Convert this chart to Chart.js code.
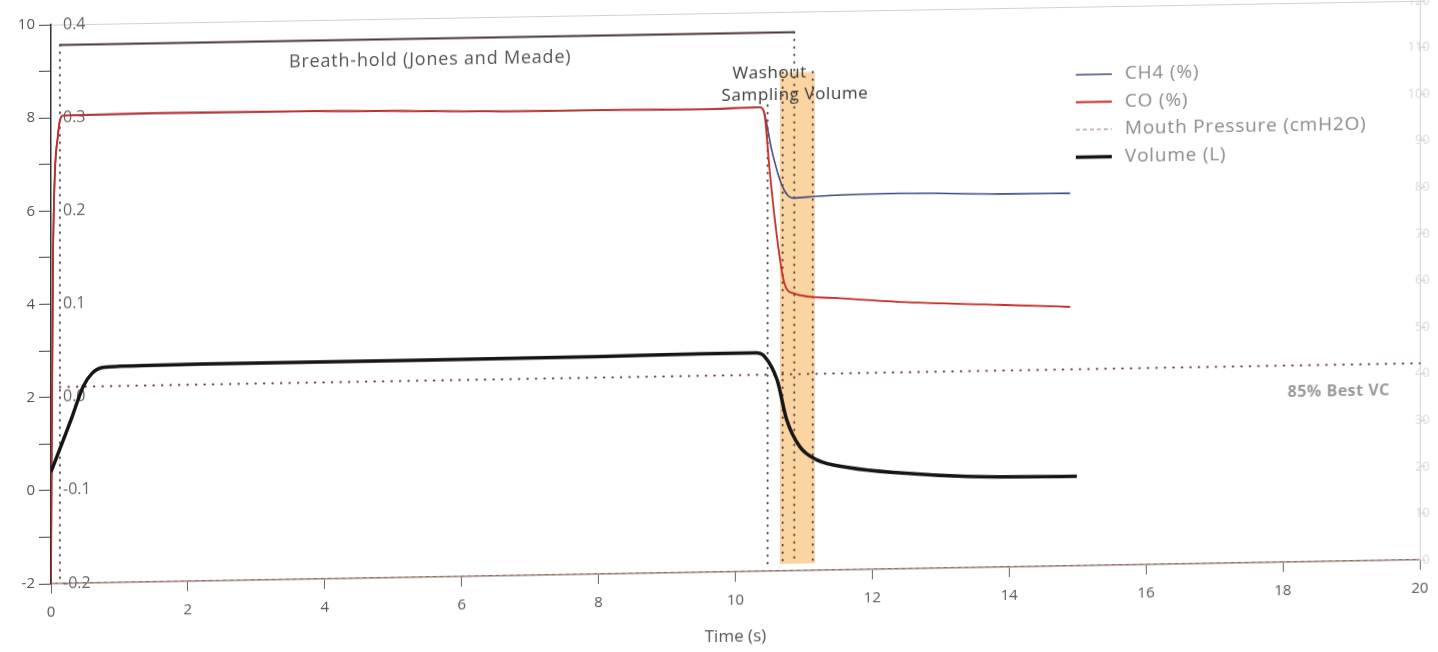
<!DOCTYPE html>
<html>
<head>
<meta charset="utf-8">
<script src="https://cdn.jsdelivr.net/npm/chart.js@4.4.1/dist/chart.umd.min.js"></script>
<style>
  html, body { margin: 0; padding: 0; background: #fff; overflow: hidden; }
  #wrap { width: 1438px; height: 652px; }
  /* the reference is a slightly tilted photo of a print */
  #myChart { transform: skewY(-1deg); transform-origin: 50% 50%; }
</style>
</head>
<body>
<div id="wrap"><canvas id="myChart" width="1438" height="652"></canvas></div>
<script>
// Tick values for each axis
const timeTicks = [0, 2, 4, 6, 8, 10, 12, 14, 16, 18, 20];
const leftTicks = [-2, -1, 0, 1, 2, 3, 4, 5, 6, 7, 8, 9, 10];
const pressureTicks = [-0.2, -0.1, 0, 0.1, 0.2, 0.3, 0.4];
const rightTicks = [0, 10, 20, 30, 40, 50, 60, 70, 80, 90, 100, 110, 120];

// Series (time in s)
const ch4Time   = [0, 0.03, 0.1, 0.17, 1.5, 3.6, 5.0, 6.6, 8.0, 9.5, 10.36, 10.42, 10.53, 10.69, 10.84, 11.19, 12.4, 13.86, 14.89];
const ch4Values = [-2, 5.1, 7.6, 8.04, 8.06, 8.05, 8.02, 7.97, 7.96, 7.94, 7.96, 7.85, 7.04, 6.24, 6.0, 6.03, 6.06, 6.01, 6.0];

const coTime    = [0, 0.03, 0.1, 0.17, 1.5, 3.6, 5.0, 6.6, 8.0, 9.5, 10.36, 10.42, 10.5, 10.58, 10.66, 10.72, 10.84, 11.42, 12.4, 13.86, 14.89];
const coValues  = [-2, 5.1, 7.6, 8.04, 8.06, 8.05, 8.02, 7.97, 7.96, 7.94, 7.96, 7.85, 6.6, 5.5, 4.6, 4.15, 3.96, 3.84, 3.73, 3.63, 3.56];

const pressureTime   = [0, 20];
const pressureValues = [-0.2, -0.2];

const volumeTime   = [0, 0.3, 0.47, 0.6, 0.75, 1.0, 2.2, 5.1, 8.0, 9.5, 10.3, 10.42, 10.61, 10.75, 10.94, 11.19, 11.67, 12.4, 13.38, 14.99];
const volumeValues = [0.40, 1.54, 2.22, 2.50, 2.62, 2.64, 2.66, 2.66, 2.67, 2.69, 2.69, 2.62, 2.10, 1.24, 0.66, 0.37, 0.19, 0.06, -0.04, -0.08];

// Annotations (time in s, level on the left axis)
const breathHold = { start: 0.13, end: 10.86, level: 9.56 };
const washoutBand = { start: 10.65, end: 11.16, top: 8.7, bottom: -1.85 };
const markerTimes   = [0.13, 10.47, 10.69, 10.86, 11.13];
const markerTops    = [9.56, 8.0, 8.7, 9.56, 8.7];
const markerBottoms = [-2, -1.85, -1.85, -1.85, -1.85];
const bestVcLevel = 2.22;

Chart.defaults.font.family = '"Open Sans", "DejaVu Sans", sans-serif';
Chart.defaults.color = '#555';

const toPoints = (xs, ys) => xs.map((x, i) => ({ x: x, y: ys[i] }));
const setTicks = (arr) => (scale) => { scale.ticks = arr.map(v => ({ value: v })); };
// keep the chart area where the print had it: no extra room for end labels
const noPad = (s) => { s.paddingTop = 0; s.paddingBottom = 0; s.paddingLeft = 0; s.paddingRight = 0; };

// Draws the breath-hold box, washout band, reference line, labels and legend
const annotationPlugin = {
  id: 'annotations',
  beforeDatasetsDraw(chart) {
    const { ctx, scales: { x, y } } = chart;
    ctx.save();

    // washout sampling volume band
    const bx0 = x.getPixelForValue(washoutBand.start);
    const bx1 = x.getPixelForValue(washoutBand.end);
    const by0 = y.getPixelForValue(washoutBand.top);
    const by1 = y.getPixelForValue(washoutBand.bottom);
    ctx.fillStyle = 'rgba(246, 172, 70, 0.5)';
    ctx.fillRect(bx0, by0, bx1 - bx0, by1 - by0);

    // dotted vertical markers
    ctx.strokeStyle = '#5a4242';
    ctx.lineWidth = 2;
    ctx.lineCap = 'round';
    ctx.setLineDash([0.5, 7]);
    markerTimes.forEach((t, i) => {
      const px = x.getPixelForValue(t);
      ctx.beginPath();
      ctx.moveTo(px, y.getPixelForValue(markerTops[i]));
      ctx.lineTo(px, y.getPixelForValue(markerBottoms[i]));
      ctx.stroke();
    });

    // 85% best VC line
    ctx.strokeStyle = '#6a3a3a';
    ctx.setLineDash([0.5, 8]);
    ctx.beginPath();
    ctx.moveTo(x.getPixelForValue(breathHold.start), y.getPixelForValue(bestVcLevel));
    ctx.lineTo(x.getPixelForValue(20), y.getPixelForValue(bestVcLevel));
    ctx.stroke();

    // breath-hold top bar
    ctx.setLineDash([]);
    ctx.lineCap = 'butt';
    ctx.strokeStyle = '#4a3634';
    ctx.lineWidth = 2;
    ctx.beginPath();
    ctx.moveTo(x.getPixelForValue(breathHold.start), y.getPixelForValue(breathHold.level));
    ctx.lineTo(x.getPixelForValue(breathHold.end), y.getPixelForValue(breathHold.level));
    ctx.stroke();
    ctx.restore();
  },
  afterDatasetsDraw(chart) {
    const { ctx, scales: { x, y } } = chart;
    ctx.save();
    ctx.textBaseline = 'middle';

    ctx.font = '18px "Open Sans", sans-serif';
    ctx.letterSpacing = '0.8px';
    ctx.fillStyle = '#555';
    ctx.textAlign = 'center';
    ctx.fillText('Breath-hold (Jones and Meade)', x.getPixelForValue(5.54), y.getPixelForValue(9.1));

    ctx.font = '17px "Open Sans", sans-serif';
    ctx.letterSpacing = '0.6px';
    ctx.fillStyle = '#3a3a3a';
    ctx.fillText('Washout', x.getPixelForValue(10.5), y.getPixelForValue(8.69));
    ctx.fillText('Sampling Volume', x.getPixelForValue(10.87), y.getPixelForValue(8.21));

    ctx.font = 'bold 16px "Open Sans", sans-serif';
    ctx.letterSpacing = '0.5px';
    ctx.fillStyle = '#9a9a9a';
    ctx.textAlign = 'right';
    ctx.fillText('85% Best VC', 1390, y.getPixelForValue(1.64));

    // legend
    ctx.font = '19px "Open Sans", sans-serif';
    ctx.letterSpacing = '0.8px';
    ctx.textAlign = 'left';
    chart.data.datasets.forEach((ds, i) => {
      const ly = 81 + i * 27.5;
      ctx.strokeStyle = ds.borderColor;
      ctx.lineWidth = ds.borderWidth;
      ctx.setLineDash(ds.borderDash || []);
      ctx.beginPath();
      ctx.moveTo(1076, ly);
      ctx.lineTo(1112, ly);
      ctx.stroke();
      ctx.fillStyle = '#8a8a8a';
      ctx.fillText(ds.label, 1125, ly);
    });
    ctx.restore();
  }
};

const ctx = document.getElementById('myChart').getContext('2d');

const myChart = new Chart(ctx, {
  type: 'line',
  data: {
    datasets: [
      {
        label: 'CH4 (%)',
        data: toPoints(ch4Time, ch4Values),
        borderColor: '#414a80',
        borderWidth: 1.6,
        order: 3,
        yAxisID: 'y'
      },
      {
        label: 'CO (%)',
        data: toPoints(coTime, coValues),
        borderColor: '#c42c26',
        borderWidth: 1.8,
        order: 2,
        yAxisID: 'y'
      },
      {
        label: 'Mouth Pressure (cmH2O)',
        data: toPoints(pressureTime, pressureValues),
        borderColor: '#b9a4a0',
        borderWidth: 1.5,
        borderDash: [4, 3],
        order: 4,
        yAxisID: 'y2'
      },
      {
        label: 'Volume (L)',
        data: toPoints(volumeTime, volumeValues),
        borderColor: '#151515',
        borderWidth: 3.5,
        order: 1,
        yAxisID: 'y'
      }
    ]
  },
  options: {
    responsive: false,
    animation: false,
    layout: { padding: 0 },
    elements: {
      point: { radius: 0 },
      line: { cubicInterpolationMode: 'monotone' }
    },
    plugins: {
      legend: { display: false },
      tooltip: { enabled: false }
    },
    scales: {
      x: {
        type: 'linear',
        position: 'bottom',
        min: 0,
        max: 20,
        afterBuildTicks: setTicks(timeTicks),
        ticks: { padding: 10, color: '#555', font: { size: 15 } },
        grid: { drawOnChartArea: false, tickLength: 10, color: '#666' },
        border: { color: '#8a6a62', width: 1.5 },
        title: {
          display: true,
          text: 'Time (s)',
          color: '#555',
          font: { size: 17 },
          padding: { top: 6, bottom: 5 }
        },
        afterFit: (s) => { s.height = 80; noPad(s); }
      },
      xTop: {
        type: 'linear',
        position: 'top',
        min: 0,
        max: 20,
        ticks: { display: false },
        grid: { display: false },
        border: { color: '#d8d0d0' },
        afterFit: (s) => { s.height = 13; noPad(s); }
      },
      y: {
        type: 'linear',
        position: 'left',
        weight: 1,
        min: -2,
        max: 10,
        afterBuildTicks: setTicks(leftTicks),
        ticks: {
          padding: 4,
          color: '#555',
          font: { size: 15 },
          callback: (v) => (v % 2 === 0 ? v : '')
        },
        grid: { drawOnChartArea: false, tickLength: 12, color: '#444' },
        border: { color: '#333', width: 1.5 },
        afterFit: (s) => { s.width = 51; noPad(s); }
      },
      y2: {
        type: 'linear',
        position: 'left',
        weight: 0,
        min: -0.2,
        max: 0.4,
        afterBuildTicks: setTicks(pressureTicks),
        ticks: {
          mirror: true,
          padding: 12,
          color: '#666',
          font: { size: 16 },
          callback: (v) => (Math.abs(v) < 1e-9 ? '0.0' : v.toFixed(1))
        },
        grid: { display: false },
        border: { display: false },
        afterFit: (s) => { s.width = 0; noPad(s); }
      },
      y3: {
        type: 'linear',
        position: 'right',
        min: 0,
        max: 120,
        afterBuildTicks: setTicks(rightTicks),
        ticks: { mirror: true, padding: 10, color: '#dcd6d6', font: { size: 13 } },
        grid: { drawOnChartArea: false, tickLength: 6, color: '#cfc8c8' },
        border: { color: '#d8d0d0' },
        afterFit: (s) => { s.width = 18; noPad(s); }
      }
    }
  },
  plugins: [annotationPlugin]
});
</script>
</body>
</html>
